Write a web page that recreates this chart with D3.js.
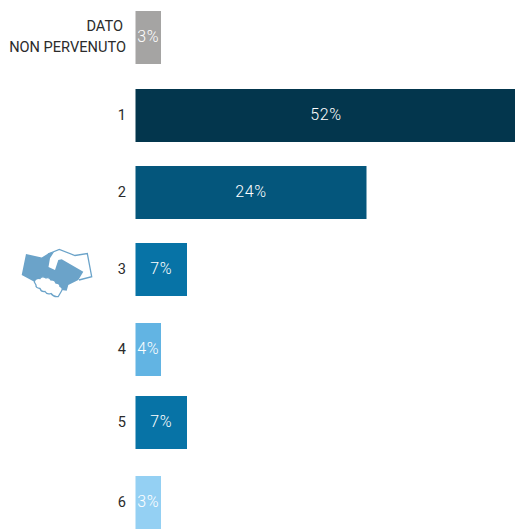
<!DOCTYPE html>
<html>
<head>
<meta charset="utf-8">
<script src="https://cdn.jsdelivr.net/npm/d3@7"></script>
<style>
  html, body { margin: 0; padding: 0; background: #fff; overflow: hidden; }
  svg { display: block; }
  text { font-family: Roboto, "Noto Sans", sans-serif; }
</style>
</head>
<body>
<svg id="chart" width="515" height="529"></svg>
<script>
// Share of answers per rating
const categories = ["DATO\nNON PERVENUTO", "1", "2", "3", "4", "5", "6"];
const shares = [3, 52, 24, 7, 4, 7, 3];
const barColors = ["#a5a4a3", "#03364d", "#04567c", "#0773a6", "#62b4e3", "#0773a6", "#94d0f3"];

// Row tops follow the printed spacing, which is not quite uniform
const rowTops = [11, 89, 166, 243, 323, 396, 476];
const rowHeight = 53;

const svg = d3.select("#chart");
const x0 = 135.5;

// Bar length by value: a hand-set editorial ramp rather than a strict proportion
const length = d3.scaleLinear()
  .domain([0, 3, 4, 7, 24, 52])
  .range([0, 25.5, 25.5, 51.5, 231, 381]);

const rows = svg.selectAll("g.row")
  .data(categories.map((c, i) => ({ c, v: shares[i], color: barColors[i], top: rowTops[i] })))
  .join("g")
  .attr("class", "row")
  .attr("transform", d => `translate(0,${d.top})`);

rows.append("rect")
  .attr("x", x0)
  .attr("y", 0)
  .attr("width", d => length(d.v))
  .attr("height", rowHeight)
  .attr("fill", d => d.color);

rows.append("text")
  .attr("x", d => x0 + length(d.v) / 2)
  .attr("y", rowHeight / 2 - 1)
  .attr("dy", "0.36em")
  .attr("text-anchor", "middle")
  .attr("fill", "#fff")
  .attr("font-size", 16)
  .attr("font-weight", 300)
  .attr("letter-spacing", 0.7)
  .text(d => d.v + "%");

rows.each(function (d) {
  const lines = d.c.split("\n");
  const g = d3.select(this);
  lines.forEach((line, i) => {
    g.append("text")
      .attr("x", lines.length > 1 && i === 0 ? 123 : 126)
      .attr("y", rowHeight / 2 - 1 + (i - (lines.length - 1) / 2) * 21)
      .attr("dy", "0.36em")
      .attr("text-anchor", "end")
      .attr("fill", "#2b2b2b")
      .attr("font-size", 14.6)
      .text(line);
  });
});

// Handshake pictogram: open cuff, solid hand, scalloped fist
const icon = svg.append("g").attr("class", "handshake");
const iconBlue = "#6ba3c9";
icon.append("path")
  .attr("d", "M48 254 L59.3 249.5 L75 255.5 L87.3 253.5 L91.7 276.7 L79 280")
  .attr("fill", "#fff").attr("stroke", iconBlue).attr("stroke-width", 1.3);
icon.append("path")
  .attr("d", "M26 254 L41.7 257.5 L49 253 L54 252 L50 258.3 L48.5 267 L55 270 L58.3 260 L61.7 259.3 L83.3 271.7 L78.3 280 L68.3 285 L66.7 290.7 L61.7 290 L50 280 L40 278.3 L34.3 281.7 L21.7 275 Z")
  .attr("fill", iconBlue);
icon.append("path")
  .attr("d", "M34.3 282 Q35 278 40 278.5 Q42 275.5 46 278 Q49 276.5 51 280 Q55 279.5 56 283 Q60 283 60 286.5 Q63.5 288 61.5 291 L58.3 296.5 Q54 297.5 51 293.5 Q47 295 45 291.5 Q41 292 40 288.5 Q35.5 288 36 285 Z")
  .attr("fill", "#fff").attr("stroke", iconBlue).attr("stroke-width", 1.3);
</script>
</body>
</html>
